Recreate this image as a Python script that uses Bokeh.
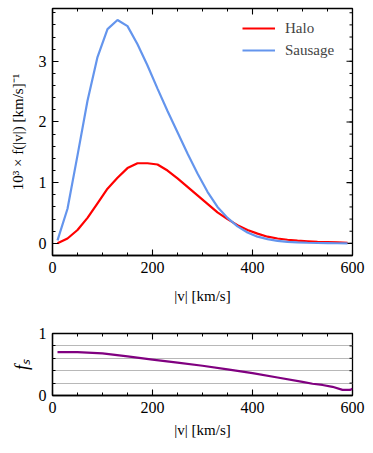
import numpy as np
from bokeh.plotting import figure
from bokeh.layouts import column
from bokeh.models import SingleIntervalTicker, Range1d, Legend, LegendItem, Title
from bokeh.embed import file_html
from bokeh.resources import INLINE

# data
v = [10, 30, 50, 70, 90, 110, 130, 150, 170, 190, 210, 230, 250, 270, 290,
     310, 330, 350, 370, 390, 410, 430, 450, 470, 490, 510, 530, 550, 570, 590]
halo = [0.0, 0.08, 0.22, 0.42, 0.66, 0.90, 1.08, 1.24, 1.32, 1.32, 1.30, 1.20, 1.07, 0.93, 0.79,
        0.65, 0.51, 0.40, 0.30, 0.22, 0.16, 0.11, 0.08, 0.06, 0.045, 0.035, 0.025, 0.02, 0.015, 0.01]
sausage = [0.05, 0.57, 1.45, 2.35, 3.07, 3.53, 3.68, 3.58, 3.28, 2.93, 2.55, 2.18, 1.83, 1.48, 1.15,
           0.85, 0.60, 0.42, 0.28, 0.18, 0.11, 0.07, 0.04, 0.025, 0.015, 0.01, 0.006, 0.004, 0.002, 0.001]
v_fs = [10, 50, 100, 150, 200, 250, 300, 350, 400, 450, 500, 520, 540, 560, 580, 595, 600]
fs = [0.70, 0.70, 0.68, 0.63, 0.58, 0.53, 0.48, 0.42, 0.36, 0.29, 0.22, 0.19, 0.17, 0.14, 0.09, 0.09, 0.11]

FONT = "Liberation Serif"
TICK_FS = "16px"
LABEL_FS = "15px"


def style_axis(ax):
    ax.major_tick_in = 6
    ax.major_tick_out = 0
    ax.minor_tick_in = 3
    ax.minor_tick_out = 0
    ax.axis_line_color = "black"
    ax.axis_line_width = 1.3
    ax.major_tick_line_color = "black"
    ax.minor_tick_line_color = "black"
    ax.major_tick_line_width = 1.1
    ax.minor_tick_line_width = 1.0
    ax.major_label_text_font = FONT
    ax.major_label_text_color = "black"
    ax.major_label_text_font_size = TICK_FS
    ax.major_label_standoff = 6
    ax.axis_label_text_font = FONT
    ax.axis_label_text_font_style = "normal"
    ax.axis_label_text_color = "black"
    ax.axis_label_text_font_size = LABEL_FS


def mirror_ticks(p, x0, x1, y0, y1, xmaj, xmin, ymaj, ymin):
    xs_maj = np.arange(x0, x1 + 1e-9, xmaj)
    xs_min = np.arange(x0, x1 + 1e-9, xmin)
    p.ray(x=xs_maj, y=[y1] * len(xs_maj), length=6, length_units="screen",
          angle=-np.pi / 2, line_color="black", line_width=1.1)
    p.ray(x=xs_min, y=[y1] * len(xs_min), length=3, length_units="screen",
          angle=-np.pi / 2, line_color="black", line_width=1.0)
    ys_maj = np.arange(np.ceil(y0), y1 + 1e-9, ymaj)
    ys_min = np.arange(np.ceil(y0 / ymin) * ymin, y1 + 1e-9, ymin)
    p.ray(x=[x1] * len(ys_maj), y=ys_maj, length=6, length_units="screen",
          angle=np.pi, line_color="black", line_width=1.1)
    p.ray(x=[x1] * len(ys_min), y=ys_min, length=3, length_units="screen",
          angle=np.pi, line_color="black", line_width=1.0)


def add_title(p, text, place, size=LABEL_FS, style="normal", offset=0, standoff=0):
    t = Title(text=text, align="center", text_font=FONT, text_font_size=size,
              text_font_style=style, text_color="black", offset=offset, standoff=standoff)
    p.add_layout(t, place)


# ---- top figure ----
p1 = figure(width=373, height=318, output_backend="svg", toolbar_location=None,
            x_range=Range1d(0, 600), y_range=Range1d(-0.2, 3.87),
            min_border_left=52, min_border_right=21, min_border_top=8, min_border_bottom=63)
p1.xaxis.ticker = SingleIntervalTicker(interval=200, num_minor_ticks=4)
p1.yaxis.ticker = SingleIntervalTicker(interval=1, num_minor_ticks=5)
for ax in p1.xaxis + p1.yaxis:
    style_axis(ax)
p1.xaxis.axis_label = "|v| [km/s]"
p1.yaxis.axis_label = "10³ × f(|v|) [km/s]⁻¹"
p1.xaxis.axis_label_standoff = 12
p1.yaxis.axis_label_standoff = 10
p1.xgrid.grid_line_color = None
p1.ygrid.grid_line_color = None
p1.outline_line_color = "black"
p1.outline_line_width = 1.3
mirror_ticks(p1, 0, 600, -0.2, 3.87, 200, 50, 1, 0.2)

r_h = p1.line(v, halo, line_color="#ff0000", line_width=2.2)
r_s = p1.line(v, sausage, line_color="#6495ed", line_width=2.2)
legend = Legend(items=[LegendItem(label="Halo", renderers=[r_h]),
                       LegendItem(label="Sausage", renderers=[r_s])],
                location=(190, 195))
legend.border_line_color = None
legend.background_fill_alpha = 0
legend.label_text_font = FONT
legend.label_text_font_size = "15px"
legend.glyph_width = 33
legend.label_standoff = 10
legend.spacing = 2
legend.margin = 0
legend.padding = 4
p1.add_layout(legend)

# ---- bottom figure ----
p2 = figure(width=373, height=135, output_backend="svg", toolbar_location=None,
            x_range=Range1d(0, 600), y_range=Range1d(0, 1),
            min_border_left=52, min_border_right=21, min_border_top=15, min_border_bottom=58)
p2.xaxis.ticker = SingleIntervalTicker(interval=200, num_minor_ticks=4)
p2.yaxis.ticker = SingleIntervalTicker(interval=1, num_minor_ticks=5)
for ax in p2.xaxis + p2.yaxis:
    style_axis(ax)
p2.xgrid.grid_line_color = None
p2.ygrid.grid_line_color = None
p2.ygrid.minor_grid_line_color = "#b8b8b8"
p2.ygrid.minor_grid_line_width = 1
p2.outline_line_color = "black"
p2.outline_line_width = 1.3
mirror_ticks(p2, 0, 600, 0, 1, 200, 50, 1, 0.2)
add_title(p2, "|v| [km/s]", "below", standoff=8)
add_title(p2, "fₛ", "left", size="18px", style="italic", standoff=8)
p2.line(v_fs, fs, line_color="#800080", line_width=2.2)

layout = column(p1, p2, spacing=0)
open("out.html", "w").write(file_html(layout, INLINE))
